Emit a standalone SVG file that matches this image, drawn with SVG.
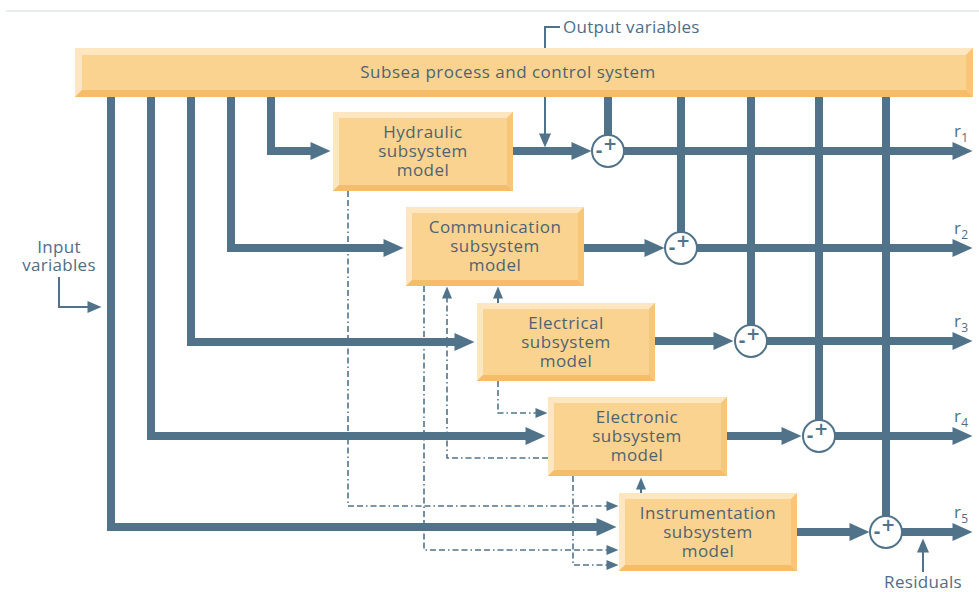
<svg xmlns="http://www.w3.org/2000/svg" width="979" height="592" viewBox="0 0 979 592">
  <style>
    .face { fill: #fbd391; }
    .hi { fill: #fde6c0; }
    .lo { fill: #f5bd68; }
    .lo2 { fill: #f7c677; }
    .box-text { font-family: "Open Sans", "Noto Sans", sans-serif; font-size: 17px; fill: #4e6370; text-anchor: middle; letter-spacing: 0.5px; }
    .label { font-family: "Open Sans", "Noto Sans", sans-serif; font-size: 17px; fill: #4f6e86; letter-spacing: 0.3px; }
    .sign { font-family: "DejaVu Sans", "Noto Sans", sans-serif; font-size: 17px; font-weight: bold; fill: #51738a; text-anchor: middle; }
    .thick { fill: none; stroke: #51738a; stroke-width: 8; stroke-linejoin: miter; stroke-linecap: butt; }
    .thin { fill: none; stroke: #51738a; stroke-width: 2; stroke-linejoin: miter; }
    .dash { fill: none; stroke: #51738a; stroke-width: 1.6; stroke-dasharray: 6 3 6 3 1.5 3; }
    .sum { fill: #ffffff; stroke: #51738a; stroke-width: 2; }
  </style>
  <defs>
    <marker id="big" markerUnits="userSpaceOnUse" viewBox="0 0 20 18" markerWidth="20" markerHeight="18" refX="0.5" refY="9" orient="auto" overflow="visible">
      <path d="M0,0 L20,9 L0,18 Z" fill="#51738a"/>
    </marker>
    <marker id="small" markerUnits="userSpaceOnUse" viewBox="0 0 14 12" markerWidth="14" markerHeight="12" refX="0.5" refY="6" orient="auto" overflow="visible">
      <path d="M0,0 L14,6 L0,12 Z" fill="#51738a"/>
    </marker>
    <marker id="tiny" markerUnits="userSpaceOnUse" viewBox="0 0 12 10" markerWidth="12" markerHeight="10" refX="0.5" refY="5" orient="auto" overflow="visible">
      <path d="M0,0 L12,5 L0,10 Z" fill="#51738a"/>
    </marker>
  </defs>

  <!-- header rule -->
  <line x1="6" y1="11" x2="979" y2="11" stroke="#dfe7e7" stroke-width="1.5"/>

  <!-- connectors -->
  <g id="connectors">
    <!-- output variables pointer (runs behind the process bar) -->
    <path class="thin" d="M560,27 H545 V134" marker-end="url(#small)"/>
    <!-- input variables pointer -->
    <path class="thin" d="M59,277 V307 H88" marker-end="url(#small)"/>
    <!-- residuals pointer -->
    <path class="thin" d="M923,572 V552" marker-end="url(#small)"/>

    <!-- inputs from the process to each model -->
    <path class="thick" d="M271,97 V151 H311" marker-end="url(#big)"/>
    <path class="thick" d="M231,97 V248 H384" marker-end="url(#big)"/>
    <path class="thick" d="M191,97 V342 H455" marker-end="url(#big)"/>
    <path class="thick" d="M151,97 V436 H526" marker-end="url(#big)"/>
    <path class="thick" d="M111,97 V527 H597" marker-end="url(#big)"/>

    <!-- measured outputs to summing junctions -->
    <path class="thick" d="M608,97 V135"/>
    <path class="thick" d="M681,97 V232"/>
    <path class="thick" d="M751,97 V325"/>
    <path class="thick" d="M819,97 V420"/>
    <path class="thick" d="M886,97 V516"/>

    <!-- model outputs to summing junctions -->
    <path class="thick" d="M513,151 H572" marker-end="url(#big)"/>
    <path class="thick" d="M584,248 H645" marker-end="url(#big)"/>
    <path class="thick" d="M655,341 H714" marker-end="url(#big)"/>
    <path class="thick" d="M727,436 H782" marker-end="url(#big)"/>
    <path class="thick" d="M797,532 H850" marker-end="url(#big)"/>

    <!-- residual outputs -->
    <path class="thick" d="M624,151 H953" marker-end="url(#big)"/>
    <path class="thick" d="M697,248 H953" marker-end="url(#big)"/>
    <path class="thick" d="M767,341 H953" marker-end="url(#big)"/>
    <path class="thick" d="M835,436 H953" marker-end="url(#big)"/>
    <path class="thick" d="M902,532 H953" marker-end="url(#big)"/>

    <!-- interactions between subsystem models -->
    <path class="dash" d="M348,191 V506 H607" marker-end="url(#tiny)"/>
    <path class="dash" d="M424,286 V550 H607" marker-end="url(#tiny)"/>
    <path class="dash" d="M548,458 H447 V298" marker-end="url(#tiny)"/>
    <path class="dash" d="M498,381 V413 H536" marker-end="url(#tiny)"/>
    <path class="thin" stroke-width="1.6" d="M498,303 V298" marker-end="url(#tiny)"/>
    <path class="dash" d="M573,476 V565 H607" marker-end="url(#tiny)"/>
    <path class="thin" stroke-width="1.6" d="M641,493 V489" marker-end="url(#tiny)"/>
  </g>

  <!-- process and control system -->
  <g id="process">
    <rect class="face" x="75" y="48" width="898" height="49"/>
    <polygon class="hi" points="75,48 973,48 966,55 82,55"/>
    <polygon class="hi" points="75,48 82,55 82,90 75,97"/>
    <polygon class="lo" points="75,97 82,90 966,90 973,97"/>
    <polygon class="lo2" points="973,48 973,97 966,90 966,55"/>
    <text class="box-text" x="508" y="78">Subsea process and control system</text>
  </g>

  <g id="hydraulic">
    <rect class="face" x="333" y="112" width="180" height="79"/>
    <polygon class="hi" points="333,112 513,112 507,118 339,118"/>
    <polygon class="hi" points="333,112 339,118 339,185 333,191"/>
    <polygon class="lo" points="333,191 339,185 507,185 513,191"/>
    <polygon class="lo2" points="513,112 513,191 507,185 507,118"/>
    <text class="box-text" x="423" y="138">Hydraulic<tspan x="423" dy="19">subsystem</tspan><tspan x="423" dy="19">model</tspan></text>
  </g>

  <g id="communication">
    <rect class="face" x="406" y="207" width="178" height="79"/>
    <polygon class="hi" points="406,207 584,207 578,213 412,213"/>
    <polygon class="hi" points="406,207 412,213 412,280 406,286"/>
    <polygon class="lo" points="406,286 412,280 578,280 584,286"/>
    <polygon class="lo2" points="584,207 584,286 578,280 578,213"/>
    <text class="box-text" x="495" y="233">Communication<tspan x="495" dy="19">subsystem</tspan><tspan x="495" dy="19">model</tspan></text>
  </g>

  <g id="electrical">
    <rect class="face" x="477" y="303" width="178" height="78"/>
    <polygon class="hi" points="477,303 655,303 649,309 483,309"/>
    <polygon class="hi" points="477,303 483,309 483,375 477,381"/>
    <polygon class="lo" points="477,381 483,375 649,375 655,381"/>
    <polygon class="lo2" points="655,303 655,381 649,375 649,309"/>
    <text class="box-text" x="566" y="329">Electrical<tspan x="566" dy="19">subsystem</tspan><tspan x="566" dy="19">model</tspan></text>
  </g>

  <g id="electronic">
    <rect class="face" x="548" y="397" width="179" height="79"/>
    <polygon class="hi" points="548,397 727,397 721,403 554,403"/>
    <polygon class="hi" points="548,397 554,403 554,470 548,476"/>
    <polygon class="lo" points="548,476 554,470 721,470 727,476"/>
    <polygon class="lo2" points="727,397 727,476 721,470 721,403"/>
    <text class="box-text" x="637" y="423">Electronic<tspan x="637" dy="19">subsystem</tspan><tspan x="637" dy="19">model</tspan></text>
  </g>

  <g id="instrumentation">
    <rect class="face" x="619" y="493" width="178" height="78"/>
    <polygon class="hi" points="619,493 797,493 791,499 625,499"/>
    <polygon class="hi" points="619,493 625,499 625,565 619,571"/>
    <polygon class="lo" points="619,571 625,565 791,565 797,571"/>
    <polygon class="lo2" points="797,493 797,571 791,565 791,499"/>
    <text class="box-text" x="708" y="519">Instrumentation<tspan x="708" dy="19">subsystem</tspan><tspan x="708" dy="19">model</tspan></text>
  </g>

  <!-- summing junctions -->
  <g id="sum1"><circle class="sum" cx="608" cy="151" r="16"/><text class="sign" x="610" y="150">+</text><text class="sign" x="599" y="157">-</text></g>
  <g id="sum2"><circle class="sum" cx="681" cy="248" r="16"/><text class="sign" x="683" y="247">+</text><text class="sign" x="672" y="254">-</text></g>
  <g id="sum3"><circle class="sum" cx="751" cy="341" r="16"/><text class="sign" x="753" y="340">+</text><text class="sign" x="742" y="347">-</text></g>
  <g id="sum4"><circle class="sum" cx="819" cy="436" r="16"/><text class="sign" x="821" y="435">+</text><text class="sign" x="810" y="442">-</text></g>
  <g id="sum5"><circle class="sum" cx="886" cy="532" r="16"/><text class="sign" x="888" y="531">+</text><text class="sign" x="877" y="538">-</text></g>

  <!-- labels -->
  <g id="labels">
    <text class="label" x="563" y="33">Output variables</text>
    <text class="label" x="59" y="253" text-anchor="middle" font-size="16">Input<tspan x="59" dy="18">variables</tspan></text>
    <text class="label" x="923" y="588" text-anchor="middle" font-size="16">Residuals</text>
    <text class="label" x="954" y="137" font-size="16">r<tspan font-size="12" dy="5">1</tspan></text>
    <text class="label" x="954" y="234" font-size="16">r<tspan font-size="12" dy="5">2</tspan></text>
    <text class="label" x="954" y="327" font-size="16">r<tspan font-size="12" dy="5">3</tspan></text>
    <text class="label" x="954" y="422" font-size="16">r<tspan font-size="12" dy="5">4</tspan></text>
    <text class="label" x="954" y="518" font-size="16">r<tspan font-size="12" dy="5">5</tspan></text>
  </g>
</svg>
